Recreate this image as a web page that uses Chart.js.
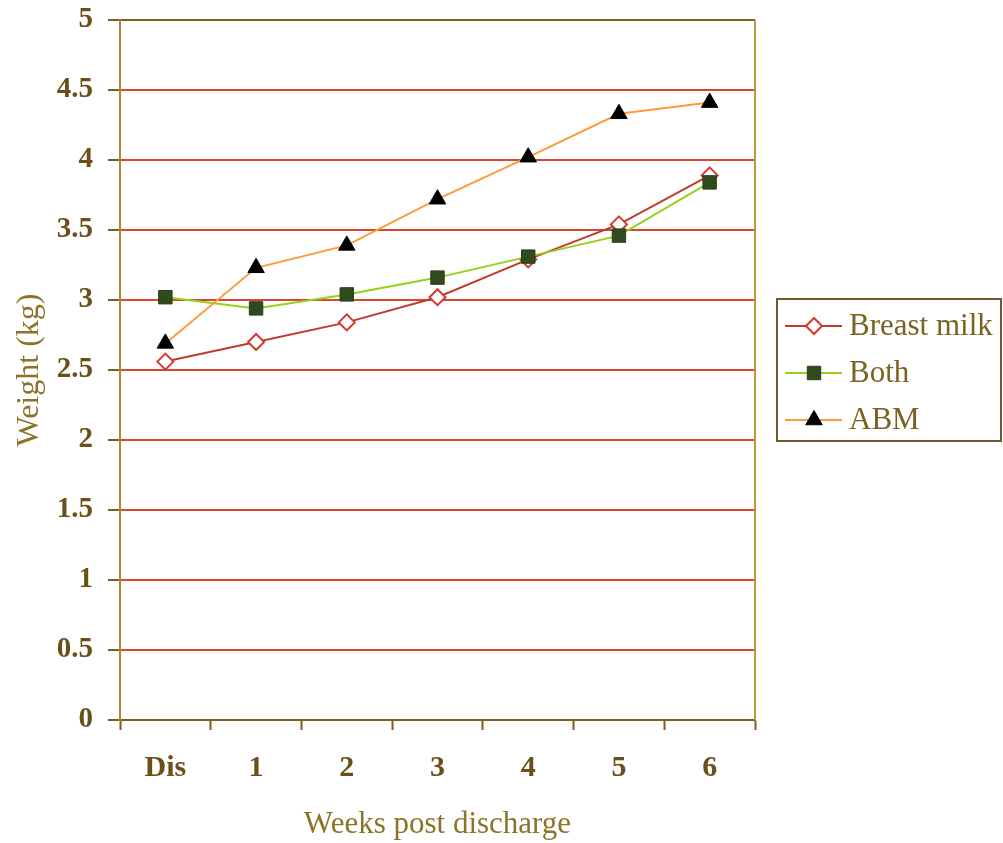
<!DOCTYPE html>
<html>
<head>
<meta charset="utf-8">
<script src="https://cdn.jsdelivr.net/npm/chart.js@4"></script>
<style>
  html, body { margin: 0; padding: 0; background: #fff; }
  #wrap { width: 1003px; height: 843px; }
</style>
</head>
<body>
<div id="wrap"><canvas id="c" width="1003" height="843"></canvas></div>
<script>
const weeks = ['Dis', '1', '2', '3', '4', '5', '6'];
const breastMilk = [2.56, 2.70, 2.84, 3.02, 3.29, 3.54, 3.89];
const both       = [3.02, 2.94, 3.04, 3.16, 3.31, 3.46, 3.84];
const abm        = [2.69, 3.23, 3.39, 3.72, 4.02, 4.33, 4.41];

const serif = '"Liberation Serif", "Times New Roman", serif';
const axisCol = '#7d5d22';
const gridCol = '#d8472d';
const tickText = '#6b4f18';
const titleText = '#8c7327';

/* ─── Frame + boxed legend ───────────────────────────────────────────── */

const framePlugin = {
    id: 'frame',
    beforeDatasetsDraw(chart) {
        const { ctx, chartArea: a } = chart;
        ctx.save();
        ctx.strokeStyle = '#b99b3c';
        ctx.lineWidth = 2;
        ctx.beginPath();
        ctx.moveTo(a.right, a.top);
        ctx.lineTo(a.right, a.bottom);
        ctx.stroke();
        ctx.restore();
    },
    afterDraw(chart) {
        const { ctx } = chart;
        const bx = 777, by = 299, bw = 224, bh = 142;
        ctx.save();
        ctx.strokeStyle = '#6e5a2a';
        ctx.lineWidth = 2;
        ctx.strokeRect(bx, by, bw, bh);
        chart.data.datasets.forEach((ds, i) => {
            const y = by + 27 + i * 47;
            ctx.strokeStyle = ds.borderColor;
            ctx.lineWidth = 2;
            ctx.beginPath();
            ctx.moveTo(bx + 8, y);
            ctx.lineTo(bx + 65, y);
            ctx.stroke();
            ctx.fillStyle = ds.pointBackgroundColor;
            ctx.strokeStyle = ds.pointBorderColor;
            ctx.lineWidth = ds.pointBorderWidth;
            Chart.helpers.drawPoint(ctx, {
                pointStyle: ds.pointStyle,
                radius: ds.pointRadius,
                borderWidth: ds.pointBorderWidth,
                rotation: 0
            }, bx + 37, y);
            ctx.fillStyle = '#7a6220';
            ctx.font = '31px ' + serif;
            ctx.textBaseline = 'middle';
            ctx.fillText(ds.label, bx + 72, y + 1);
        });
        ctx.restore();
    }
};

new Chart(document.getElementById('c'), {
    type: 'line',
    data: {
        labels: weeks,
        datasets: [
            { label: 'Breast milk', data: breastMilk, borderColor: '#c23a2c', borderWidth: 2,
              pointStyle: 'rectRot', pointRadius: 8, pointBackgroundColor: '#ffffff',
              pointBorderColor: '#d33a2e', pointBorderWidth: 2, tension: 0, order: 3 },
            { label: 'Both', data: both, borderColor: '#96d01a', borderWidth: 2,
              pointStyle: 'rect', pointRadius: 9.5, pointBackgroundColor: '#2f4a1c',
              pointBorderColor: '#2a4018', pointBorderWidth: 1, tension: 0, order: 2 },
            { label: 'ABM', data: abm, borderColor: '#ff9a3a', borderWidth: 2,
              pointStyle: 'triangle', pointRadius: 9.5, pointBackgroundColor: '#000000',
              pointBorderColor: '#000000', pointBorderWidth: 1, tension: 0, order: 1 }
        ]
    },
    options: {
        responsive: false,
        animation: false,
        layout: { padding: { left: 10, right: 248, top: 20, bottom: 0 } },
        plugins: { legend: { display: false }, tooltip: { enabled: false } },
        scales: {
            x: {
                offset: true,
                afterFit: s => { s.height = 123; },
                grid: { offset: true, drawOnChartArea: false, tickLength: 10, tickColor: axisCol, tickWidth: 2 },
                border: { color: axisCol, width: 2 },
                ticks: { color: tickText, padding: 20, font: { family: serif, size: 30, weight: 'bold' } },
                title: { display: true, text: 'Weeks post discharge', color: titleText, padding: { top: 10, bottom: 0 },
                         font: { family: serif, size: 31 } }
            },
            y: {
                min: 0, max: 5,
                afterFit: s => { s.width = 110; s.paddingTop = 0; s.paddingBottom = 0; },
                grid: {
                    color: c => (c.tick && (c.tick.value === 0 || c.tick.value === 5)) ? axisCol : gridCol,
                    lineWidth: 2, tickLength: 12, tickColor: axisCol, tickWidth: 2
                },
                border: { color: '#a8863a', width: 2 },
                ticks: { stepSize: 0.5, color: tickText, padding: 15, callback: v => v,
                         font: { family: serif, size: 29, weight: 'bold' } },
                title: { display: true, text: 'Weight (kg)', color: titleText, padding: { top: 0, bottom: 0 },
                         font: { family: serif, size: 32 } }
            }
        }
    },
    plugins: [framePlugin]
});
</script>
</body>
</html>
